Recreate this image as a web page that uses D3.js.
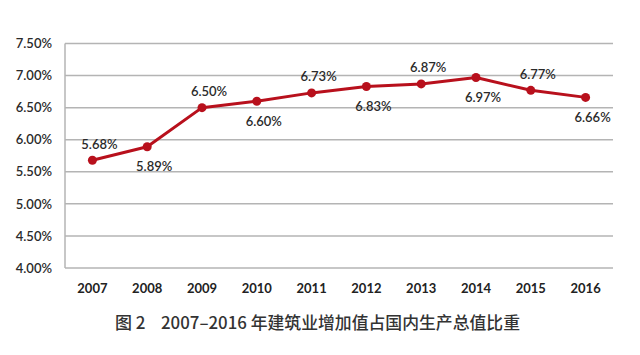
<!DOCTYPE html>
<html><head><meta charset="utf-8">
<script src="https://cdn.jsdelivr.net/npm/d3@7"></script>
<style>body{margin:0;background:#fff}</style>
</head><body><svg id="c" width="640" height="355"></svg>
<script>
const years = ["2007","2008","2009","2010","2011","2012","2013","2014","2015","2016"];
const shares = [5.68,5.89,6.50,6.60,6.73,6.83,6.87,6.97,6.77,6.66];
const labelSide = ["above","below","above","below","above","below","above","below","above","below"];
const yTicks = [4.0,4.5,5.0,5.5,6.0,6.5,7.0,7.5];
const titleFig = "图 2";
const titleText = "2007–2016 年建筑业增加值占国内生产总值比重";

const svg = d3.select("#c");
const m = {l:65, r:613, t:43.5, b:268};
const x = d3.scaleBand().domain(years).range([m.l, m.r]);
const y = d3.scaleLinear().domain([4.0, 7.5]).range([m.b, m.t]);
const font = "Lato, 'Open Sans', sans-serif";

// gridlines
svg.append("g").selectAll("line").data(yTicks).join("line")
  .attr("x1", m.l).attr("x2", m.r)
  .attr("y1", d=>y(d)).attr("y2", d=>y(d))
  .attr("stroke", "#b4b4b4").attr("stroke-width", 1.5);
svg.append("line").attr("x1", m.l).attr("x2", m.l).attr("y1", m.t).attr("y2", m.b)
  .attr("stroke", "#b4b4b4").attr("stroke-width", 1.5);

// y axis labels
const yAxis = d3.axisLeft(y).tickValues(yTicks).tickSize(0).tickPadding(13)
  .tickFormat(d => d.toFixed(2) + "%");
const ga = svg.append("g").attr("transform", `translate(${m.l},0)`).call(yAxis);
ga.select(".domain").remove();
ga.selectAll("text").attr("font-family", font).attr("font-size", 13)
  .attr("font-weight", 600).attr("fill", "#2a2a2a");

// x axis labels
const xAxis = d3.axisBottom(x).tickSize(0).tickPadding(16);
const gx = svg.append("g").attr("transform", `translate(0,${m.b})`).call(xAxis);
gx.select(".domain").remove();
gx.selectAll("text").attr("font-family", font).attr("font-size", 13)
  .attr("font-weight", 700).attr("fill", "#222");

// line
const cx = d => x(d) + x.bandwidth()/2;
const line = d3.line().x((d,i)=>cx(years[i])).y(d=>y(d));
svg.append("path").datum(shares).attr("d", line)
  .attr("fill","none").attr("stroke","#b8101c").attr("stroke-width",3)
  .attr("stroke-linejoin","round");
svg.append("g").selectAll("circle").data(shares).join("circle")
  .attr("cx",(d,i)=>cx(years[i])).attr("cy",d=>y(d)).attr("r",4.5)
  .attr("fill","#b8101c");

// data labels
svg.append("g").selectAll("text").data(shares).join("text")
  .attr("x",(d,i)=>cx(years[i]) + 7)
  .attr("y",(d,i)=>y(d) + (labelSide[i]==="above" ? -16 : 20))
  .attr("dy","0.35em").attr("text-anchor","middle")
  .attr("font-family", font).attr("font-size", 13).attr("font-weight", 600)
  .attr("fill","#2a2a2a")
  .text(d => d.toFixed(2) + "%");

// title
const tf = "'Noto Sans CJK SC', sans-serif";
svg.append("text").attr("x", 115).attr("y", 323).attr("dy","0.35em")
  .attr("font-family",tf).attr("font-size",17).attr("font-weight",500).attr("fill","#333")
  .text(titleFig);
svg.append("text").attr("x", 161).attr("y", 323).attr("dy","0.35em")
  .attr("textLength", 359).attr("lengthAdjust","spacingAndGlyphs")
  .attr("font-family",tf).attr("font-size",17).attr("font-weight",500).attr("fill","#333")
  .text(titleText);
</script></body></html>
